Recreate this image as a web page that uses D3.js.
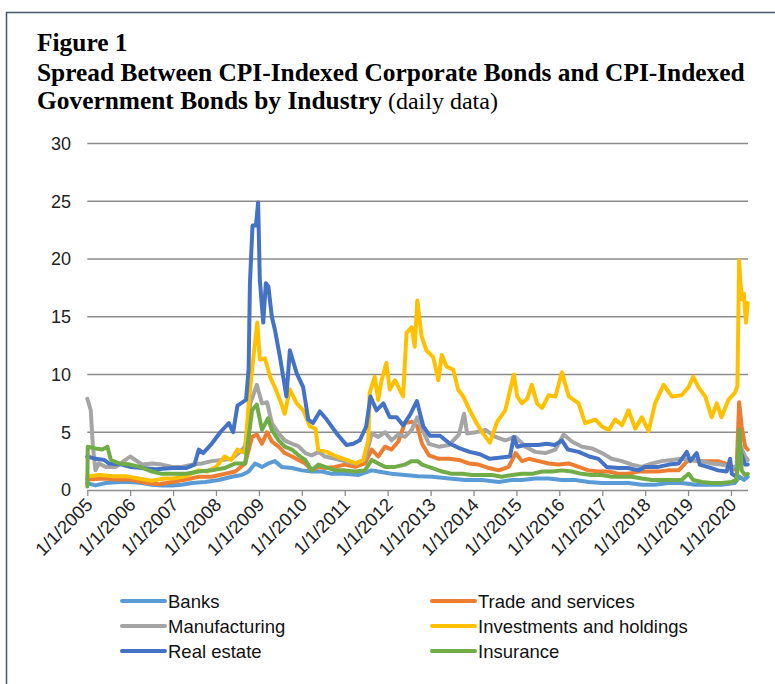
<!DOCTYPE html>
<html><head><meta charset="utf-8">
<script src="https://cdn.jsdelivr.net/npm/d3@7/dist/d3.min.js"></script>
<style>
html,body{margin:0;padding:0;background:#fff;}
svg{display:block;}
</style></head>
<body>
<script>
// ---- data (decimal year, spread) ----
const seriesNames = ["Banks","Trade and services","Manufacturing","Investments and holdings","Real estate","Insurance"];
const seriesColors = ["#5B9BD5","#ED7D31","#A5A5A5","#FFC000","#4472C4","#70AD47"];
const yTicks = [0,5,10,15,20,25,30];

const banks = [[2005.0,0.6],[2005.19,0.4],[2005.43,0.6],[2005.74,0.7],[2006.0,0.7],[2006.28,0.6],[2006.51,0.45],[2006.74,0.4],[2006.98,0.4],[2007.2,0.45],[2007.44,0.6],[2007.75,0.7],[2008.06,0.87],[2008.37,1.15],[2008.6,1.3],[2008.76,1.6],[2008.91,2.3],[2009.07,2.0],[2009.22,2.3],[2009.37,2.5],[2009.53,2.0],[2009.77,1.9],[2010.0,1.7],[2010.23,1.6],[2010.47,1.6],[2010.7,1.4],[2011.0,1.4],[2011.32,1.3],[2011.63,1.7],[2011.78,1.6],[2012.09,1.4],[2012.4,1.3],[2012.71,1.2],[2013.04,1.15],[2013.43,1.0],[2013.81,0.87],[2014.2,0.87],[2014.59,0.7],[2014.9,0.87],[2015.13,0.87],[2015.44,1.0],[2015.75,1.0],[2016.06,0.87],[2016.37,0.87],[2016.68,0.7],[2016.99,0.6],[2017.3,0.6],[2017.61,0.6],[2017.92,0.45],[2018.23,0.45],[2018.54,0.6],[2018.85,0.6],[2019.16,0.45],[2019.47,0.45],[2019.78,0.45],[2020.09,0.6],[2020.2,1.15],[2020.3,0.87],[2020.39,1.15]];

const trade = [[2005.0,0.9],[2005.4,1.0],[2005.7,0.9],[2006.0,0.9],[2006.4,0.6],[2006.67,0.5],[2006.98,0.7],[2007.3,0.9],[2007.6,1.15],[2007.9,1.15],[2008.2,1.4],[2008.45,1.6],[2008.68,2.3],[2008.84,4.6],[2008.95,4.8],[2009.07,4.0],[2009.19,5.0],[2009.3,4.2],[2009.46,3.75],[2009.6,3.2],[2009.77,2.9],[2009.92,2.6],[2010.08,2.3],[2010.23,1.7],[2010.39,2.0],[2010.54,1.9],[2010.78,2.0],[2011.0,2.2],[2011.24,2.0],[2011.47,2.3],[2011.63,3.5],[2011.78,2.9],[2011.94,3.75],[2012.09,3.5],[2012.25,4.2],[2012.4,5.8],[2012.56,5.9],[2012.69,5.5],[2012.8,4.0],[2012.96,3.0],[2013.19,2.7],[2013.43,2.7],[2013.66,2.6],[2013.89,2.3],[2014.12,2.2],[2014.36,1.9],[2014.59,1.7],[2014.82,2.0],[2014.98,3.2],[2015.13,2.5],[2015.29,2.7],[2015.52,2.5],[2015.75,2.3],[2015.98,2.2],[2016.22,2.3],[2016.45,2.0],[2016.68,1.7],[2016.91,1.6],[2017.15,1.6],[2017.38,1.4],[2017.61,1.4],[2017.84,1.6],[2018.08,1.6],[2018.31,1.6],[2018.54,1.7],[2018.78,1.7],[2019.01,2.6],[2019.24,2.5],[2019.47,2.5],[2019.7,2.5],[2019.94,2.2],[2020.13,1.7],[2020.19,7.6],[2020.25,5.5],[2020.33,3.75],[2020.39,3.5]];

const manufacturing = [[2005.0,7.9],[2005.08,6.9],[2005.13,3.8],[2005.19,1.7],[2005.27,2.3],[2005.43,2.0],[2005.66,2.0],[2005.89,2.6],[2006.0,2.9],[2006.12,2.6],[2006.28,2.2],[2006.51,2.3],[2006.74,2.2],[2006.98,2.0],[2007.2,2.0],[2007.44,2.2],[2007.67,2.3],[2007.9,2.5],[2008.14,2.6],[2008.37,2.7],[2008.53,3.2],[2008.68,3.8],[2008.8,7.5],[2008.95,9.1],[2009.07,7.5],[2009.19,7.6],[2009.3,5.8],[2009.46,4.9],[2009.6,4.3],[2009.77,4.0],[2009.92,3.8],[2010.08,3.2],[2010.23,3.0],[2010.39,3.3],[2010.54,2.9],[2010.78,2.7],[2011.0,2.5],[2011.24,2.3],[2011.47,2.6],[2011.63,4.9],[2011.78,4.6],[2011.94,5.0],[2012.09,4.3],[2012.25,4.8],[2012.4,4.6],[2012.56,5.2],[2012.69,6.3],[2012.8,5.3],[2012.96,4.0],[2013.19,3.75],[2013.43,3.9],[2013.66,4.8],[2013.78,6.6],[2013.85,4.9],[2014.05,5.0],[2014.28,5.2],[2014.51,4.6],[2014.74,4.3],[2014.98,4.6],[2015.21,3.75],[2015.44,3.3],[2015.67,3.2],[2015.91,3.5],[2016.1,4.8],[2016.29,4.2],[2016.53,3.75],[2016.76,3.6],[2016.99,3.2],[2017.22,2.7],[2017.46,2.5],[2017.69,2.2],[2017.92,2.0],[2018.16,2.3],[2018.39,2.5],[2018.62,2.6],[2018.85,2.7],[2019.08,2.6],[2019.32,2.5],[2019.55,2.3],[2019.78,2.2],[2020.02,2.0],[2020.13,2.0],[2020.21,3.9],[2020.33,2.9],[2020.39,2.6]];

const investments = [[2005.0,1.2],[2005.3,1.3],[2005.6,1.2],[2005.9,1.2],[2006.2,1.0],[2006.5,0.8],[2006.8,1.0],[2007.0,1.0],[2007.3,1.2],[2007.6,1.7],[2007.8,1.6],[2008.0,2.0],[2008.2,2.9],[2008.35,2.6],[2008.5,3.5],[2008.68,3.2],[2008.76,7.5],[2008.84,10.4],[2008.9,12.5],[2008.96,14.5],[2009.02,11.3],[2009.14,11.4],[2009.26,9.8],[2009.37,8.9],[2009.49,7.8],[2009.6,6.6],[2009.72,8.7],[2009.88,7.5],[2010.03,6.9],[2010.19,5.5],[2010.32,5.3],[2010.38,3.5],[2010.58,3.3],[2010.81,2.9],[2011.04,2.6],[2011.27,2.3],[2011.43,2.6],[2011.55,4.3],[2011.58,8.4],[2011.7,9.8],[2011.78,7.8],[2011.86,9.5],[2011.97,11.0],[2012.05,8.7],[2012.17,9.5],[2012.28,8.7],[2012.36,8.1],[2012.44,13.6],[2012.56,14.1],[2012.63,12.4],[2012.69,16.4],[2012.79,13.3],[2012.9,12.1],[2013.06,11.5],[2013.18,9.5],[2013.26,11.7],[2013.37,10.7],[2013.53,10.4],[2013.64,8.7],[2013.76,8.1],[2013.91,6.9],[2014.07,5.8],[2014.22,4.9],[2014.38,4.1],[2014.55,5.9],[2014.74,6.9],[2014.94,10.0],[2015.02,8.1],[2015.13,7.5],[2015.25,7.9],[2015.36,9.1],[2015.48,7.5],[2015.6,7.1],[2015.75,8.2],[2015.91,8.1],[2016.06,10.2],[2016.22,8.1],[2016.45,7.5],[2016.6,5.8],[2016.84,6.1],[2016.99,5.5],[2017.15,5.2],[2017.3,6.1],[2017.46,5.6],[2017.61,6.9],[2017.77,5.3],[2017.92,6.3],[2018.08,5.1],[2018.23,7.5],[2018.43,9.1],[2018.62,8.1],[2018.85,8.2],[2019.01,8.9],[2019.12,9.8],[2019.24,8.9],[2019.4,8.1],[2019.55,6.3],[2019.67,7.5],[2019.78,6.3],[2019.94,7.8],[2020.09,8.4],[2020.15,9.0],[2020.19,19.9],[2020.22,18.0],[2020.26,16.5],[2020.3,17.0],[2020.35,14.5],[2020.39,16.2]];

const realEstate = [[2005.0,2.9],[2005.2,2.7],[2005.4,2.6],[2005.5,2.3],[2005.8,2.2],[2006.0,2.0],[2006.3,1.9],[2006.6,1.8],[2007.0,1.9],[2007.3,1.9],[2007.5,2.2],[2007.6,3.5],[2007.7,3.2],[2007.9,4.0],[2008.1,5.0],[2008.3,5.8],[2008.4,5.0],[2008.5,7.3],[2008.7,7.8],[2008.76,10.5],[2008.79,17.9],[2008.85,22.9],[2008.93,22.9],[2008.98,24.9],[2009.02,18.2],[2009.1,14.5],[2009.16,17.9],[2009.22,17.6],[2009.3,15.0],[2009.37,13.9],[2009.49,11.5],[2009.64,8.1],[2009.72,12.1],[2009.88,10.1],[2010.03,8.9],[2010.15,6.1],[2010.26,5.8],[2010.42,6.8],[2010.58,6.1],[2010.81,4.9],[2011.04,3.9],[2011.2,4.0],[2011.35,4.3],[2011.5,5.5],[2011.6,8.1],[2011.74,6.9],[2011.9,7.5],[2012.05,6.3],[2012.21,6.3],[2012.36,5.6],[2012.52,6.5],[2012.68,7.7],[2012.83,5.5],[2012.98,4.7],[2013.22,4.7],[2013.45,4.0],[2013.68,3.6],[2013.91,3.3],[2014.15,3.1],[2014.38,2.7],[2014.6,2.8],[2014.85,2.9],[2014.94,4.6],[2015.02,3.75],[2015.2,3.9],[2015.5,3.9],[2015.7,4.0],[2015.9,3.9],[2016.06,4.3],[2016.2,3.5],[2016.45,3.3],[2016.7,2.9],[2016.91,2.7],[2017.1,2.0],[2017.38,1.9],[2017.6,1.9],[2017.84,1.7],[2018.0,2.0],[2018.31,2.0],[2018.55,2.2],[2018.78,2.3],[2018.97,3.3],[2019.05,2.5],[2019.2,3.2],[2019.27,2.2],[2019.45,2.0],[2019.7,1.7],[2019.9,1.6],[2019.98,2.7],[2020.02,1.4],[2020.13,1.15],[2020.21,3.5],[2020.33,2.2],[2020.39,2.2]];

const insurance = [[2005.0,0.3],[2005.01,3.75],[2005.19,3.6],[2005.35,3.5],[2005.47,3.75],[2005.55,2.6],[2005.74,2.3],[2006.0,2.2],[2006.23,2.0],[2006.51,1.6],[2006.74,1.4],[2006.98,1.4],[2007.3,1.4],[2007.6,1.6],[2007.9,1.7],[2008.2,1.9],[2008.45,2.3],[2008.68,2.3],[2008.84,6.9],[2008.95,7.4],[2009.07,5.2],[2009.21,6.2],[2009.3,5.2],[2009.46,4.3],[2009.6,3.75],[2009.77,3.5],[2009.92,3.0],[2010.08,2.6],[2010.23,1.7],[2010.39,2.2],[2010.54,2.0],[2010.78,1.7],[2011.0,1.7],[2011.24,1.6],[2011.47,1.7],[2011.63,2.6],[2011.78,2.3],[2011.94,2.0],[2012.17,2.0],[2012.4,2.2],[2012.56,2.5],[2012.7,2.5],[2012.8,2.2],[2013.04,1.9],[2013.27,1.6],[2013.5,1.4],[2013.73,1.4],[2013.97,1.3],[2014.2,1.3],[2014.43,1.3],[2014.66,1.15],[2014.9,1.3],[2015.13,1.4],[2015.36,1.4],[2015.6,1.6],[2015.83,1.6],[2016.06,1.7],[2016.29,1.6],[2016.52,1.4],[2016.76,1.3],[2016.99,1.3],[2017.22,1.15],[2017.45,1.15],[2017.69,1.15],[2017.92,1.0],[2018.16,0.87],[2018.39,0.87],[2018.62,0.87],[2018.85,0.87],[2019.01,1.4],[2019.12,0.87],[2019.32,0.7],[2019.55,0.6],[2019.78,0.6],[2020.02,0.7],[2020.13,0.9],[2020.2,5.2],[2020.25,1.7],[2020.32,1.3],[2020.39,1.4]];

const seriesData = [banks, trade, manufacturing, investments, realEstate, insurance];

// ---- layout ----
const W = 775, H = 684;
const plotL = 87.3, plotR = 748, plotT = 143.5, plotB = 490;

function toDate(t){
  const yr = Math.floor(t);
  const s = new Date(yr,0,1), e = new Date(yr+1,0,1);
  return new Date(+s + (t - yr)*(e - s));
}

const svg = d3.select("body").append("svg").attr("width",W).attr("height",H);

// frame
svg.append("path").attr("d",`M6.5,${H+5} V12.5 H${W+5}`).attr("fill","none").attr("stroke","#44546A").attr("stroke-width",1.5);

// title
const tf = "'Liberation Serif','Times New Roman',serif";
svg.append("text").attr("x",37).attr("y",51).attr("font-family",tf).attr("font-weight","bold").attr("font-size",25.4).attr("fill","#000").text("Figure 1");
svg.append("text").attr("x",37).attr("y",81).attr("font-family",tf).attr("font-weight","bold").attr("font-size",25.4).attr("fill","#000").text("Spread Between CPI-Indexed Corporate Bonds and CPI-Indexed");
const t3 = svg.append("text").attr("x",37).attr("y",109).attr("font-family",tf).attr("font-size",25.4).attr("fill","#000");
t3.append("tspan").attr("font-weight","bold").text("Government Bonds by Industry");
t3.append("tspan").attr("font-size",24).text(" (daily data)");

// scales
const x = d3.scaleTime().domain([new Date(2005,0,1), new Date(2020,4,25)]).range([plotL,plotR]);
const y = d3.scaleLinear().domain([0,30]).range([plotB,plotT]);

const af = "'Liberation Sans',Arial,sans-serif";

// gridlines
svg.append("g").selectAll("line").data(yTicks.filter(d=>d>0)).join("line")
  .attr("x1",plotL).attr("x2",plotR).attr("y1",d=>y(d)).attr("y2",d=>y(d))
  .attr("stroke","#8c8c8c").attr("stroke-width",1.3);

// y labels
svg.append("g").selectAll("text").data(yTicks).join("text")
  .attr("x",71).attr("y",d=>y(d)).attr("dy","0.36em").attr("text-anchor","end")
  .attr("font-family",af).attr("font-size",18).attr("fill","#222").text(d=>d);

// x axis
const years = d3.timeYear.range(new Date(2005,0,1), new Date(2020,1,1));
const xAxis = d3.axisBottom(x).tickValues(years).tickSize(6).tickFormat(d3.timeFormat("%-m/%-d/%Y"));
const gx = svg.append("g").attr("transform",`translate(0,${plotB})`).call(xAxis);
gx.select(".domain").attr("stroke","#8c8c8c").attr("stroke-width",1.3).attr("d",`M${plotL},0.5H${plotR}`);
gx.selectAll(".tick line").attr("stroke","#8c8c8c").attr("stroke-width",1.3);
gx.selectAll(".tick text")
  .attr("font-family",af).attr("font-size",18.5).attr("fill","#222")
  .attr("text-anchor","end").attr("y",0).attr("dy",0)
  .attr("transform","translate(6,16) rotate(-45)");

// lines
const line = d3.line().x(d=>x(toDate(d[0]))).y(d=>y(d[1])).curve(d3.curveLinear);
svg.append("g").selectAll("path").data(seriesData).join("path")
  .attr("d",line).attr("fill","none")
  .attr("stroke",(d,i)=>seriesColors[i]).attr("stroke-width",4)
  .attr("stroke-linejoin","round").attr("stroke-linecap","round");

// legend
const legPos = [[122,601],[432,601],[122,626],[432,626],[122,651],[432,651]];
const lg = svg.append("g").selectAll("g").data(seriesNames).join("g")
  .attr("transform",(d,i)=>`translate(${legPos[i][0]},${legPos[i][1]})`);
lg.append("line").attr("x1",0).attr("x2",43).attr("y1",0).attr("y2",0)
  .attr("stroke",(d,i)=>seriesColors[i]).attr("stroke-width",4).attr("stroke-linecap","round");
lg.append("text").attr("x",46).attr("y",0).attr("dy","0.36em")
  .attr("font-family",af).attr("font-size",18.5).attr("fill","#111").text(d=>d);
</script>
</body></html>
